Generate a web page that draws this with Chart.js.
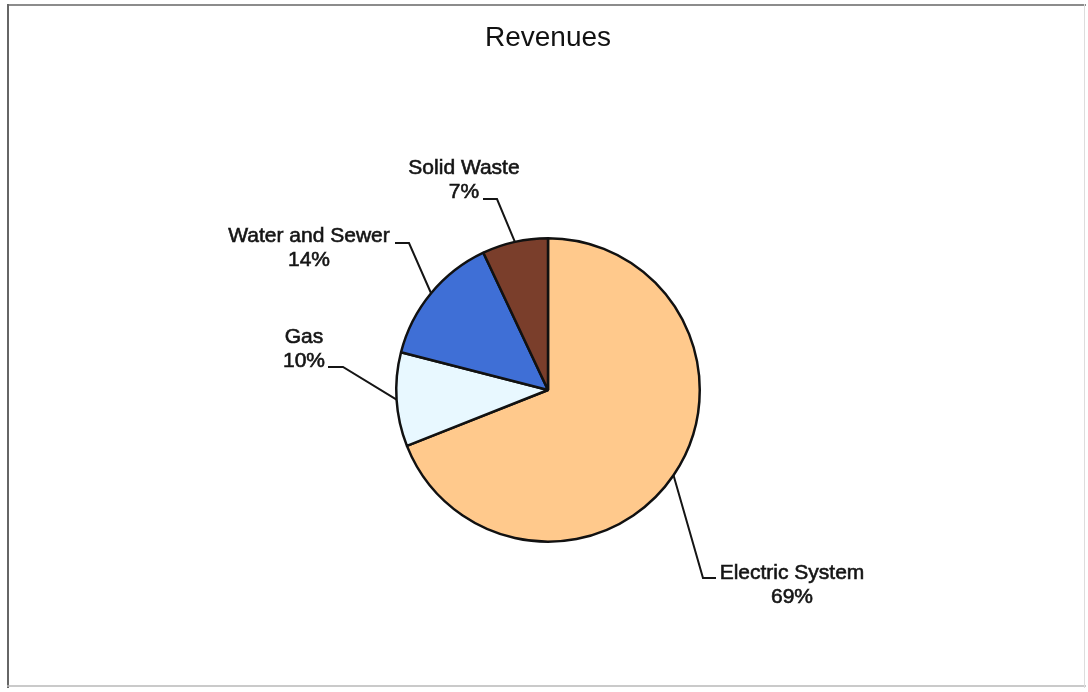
<!DOCTYPE html>
<html>
<head>
<meta charset="utf-8">
<title>Revenues</title>
<script src="https://cdn.jsdelivr.net/npm/chart.js@4/dist/chart.umd.min.js"></script>
<style>
  html, body { margin: 0; padding: 0; background: #ffffff; }
  #wrap { position: relative; width: 1088px; height: 692px; }
</style>
</head>
<body>
<div id="wrap"><canvas id="chart" width="1088" height="692"></canvas></div>
<script>
// Revenue sources, in clockwise order from 12 o'clock
const categories = ['Electric System', 'Gas', 'Water and Sewer', 'Solid Waste'];
const shares = [69, 10, 14, 7];
const sliceColors = ['#FFC98C', '#E8F8FF', '#3F6FD6', '#7A3E2B'];

// Where each callout label sits and how its leader line bends
const calloutLayout = [
  { textX: 792, textY: 573, elbow: [703, 578], end: [716, 578] },
  { textX: 304, textY: 337, elbow: [343, 367], end: [328, 367] },
  { textX: 309, textY: 236, elbow: [409, 243], end: [395, 243] },
  { textX: 464, textY: 168, elbow: [497, 199], end: [483, 199] }
];

const FONT = '"Liberation Sans", Arial, Helvetica, sans-serif';
Chart.defaults.font.family = FONT;

const framePlugin = {
  id: 'frame',
  beforeDraw(chart) {
    const ctx = chart.ctx;
    ctx.save();
    ctx.lineCap = 'butt';
    ctx.strokeStyle = '#8c8c8c';
    ctx.lineWidth = 2;
    ctx.beginPath(); ctx.moveTo(7, 5); ctx.lineTo(1086, 5); ctx.stroke();
    ctx.strokeStyle = '#666666';
    ctx.beginPath(); ctx.moveTo(8, 4); ctx.lineTo(8, 688); ctx.stroke();
    ctx.strokeStyle = '#b8b8b8';
    ctx.lineWidth = 1.5;
    ctx.beginPath(); ctx.moveTo(7, 686); ctx.lineTo(1086, 686); ctx.stroke();
    ctx.strokeStyle = '#dddddd';
    ctx.lineWidth = 1;
    ctx.beginPath(); ctx.moveTo(1084.5, 4); ctx.lineTo(1084.5, 688); ctx.stroke();
    ctx.restore();
  }
};

// Draw text with a thin outline so it reads a little heavier than regular
function heavyText(ctx, str, x, y) {
  ctx.fillText(str, x, y);
  ctx.strokeText(str, x, y);
}

const calloutPlugin = {
  id: 'callouts',
  afterDatasetsDraw(chart) {
    const ctx = chart.ctx;
    const meta = chart.getDatasetMeta(0);
    ctx.save();
    meta.data.forEach((arc, i) => {
      const p = arc.getProps(['x', 'y', 'startAngle', 'endAngle', 'outerRadius'], true);
      const mid = (p.startAngle + p.endAngle) / 2;
      const ax = p.x + Math.cos(mid) * p.outerRadius;
      const ay = p.y + Math.sin(mid) * p.outerRadius;
      const c = calloutLayout[i];
      ctx.strokeStyle = '#151515';
      ctx.lineWidth = 2;
      ctx.lineJoin = 'miter';
      ctx.beginPath();
      ctx.moveTo(ax, ay);
      ctx.lineTo(c.elbow[0], c.elbow[1]);
      ctx.lineTo(c.end[0], c.end[1]);
      ctx.stroke();

      ctx.fillStyle = '#151515';
      ctx.strokeStyle = '#151515';
      ctx.lineWidth = 0.6;
      ctx.font = '21px ' + FONT;
      ctx.textAlign = 'center';
      ctx.textBaseline = 'middle';
      heavyText(ctx, categories[i], c.textX, c.textY);
      heavyText(ctx, shares[i] + '%', c.textX, c.textY + 24);
    });
    ctx.restore();
  }
};

new Chart(document.getElementById('chart'), {
  type: 'pie',
  data: {
    labels: categories,
    datasets: [{
      data: shares,
      backgroundColor: sliceColors,
      borderColor: '#111111',
      borderWidth: 2.5,
      borderAlign: 'center'
    }]
  },
  options: {
    responsive: false,
    animation: false,
    events: [],
    layout: { padding: { top: 0, left: 395, right: 387, bottom: 149 } },
    plugins: {
      legend: { display: false },
      tooltip: { enabled: false },
      title: {
        display: true,
        text: 'Revenues',
        color: '#111111',
        font: { size: 28, weight: 'normal', family: FONT, lineHeight: 1.2 },
        padding: { top: 21, bottom: 182.4 }
      }
    }
  },
  plugins: [framePlugin, calloutPlugin]
});
</script>
</body>
</html>
